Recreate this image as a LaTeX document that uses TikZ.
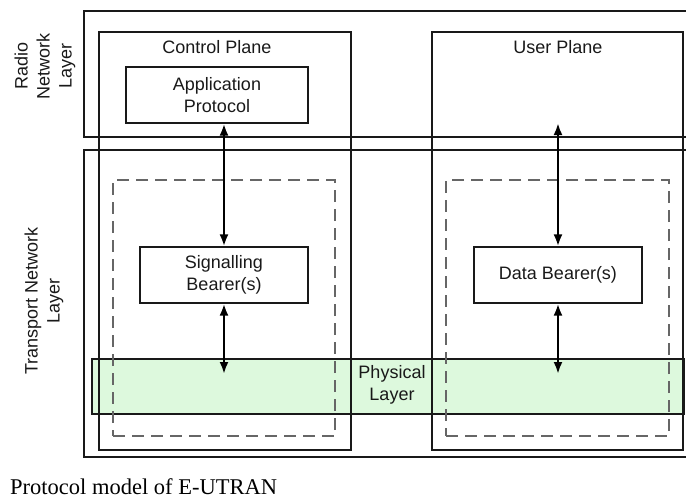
\documentclass[tikz,border=0pt]{standalone}
\usepackage{fontspec}
\setmainfont{Liberation Sans}
\newfontfamily\capfont{Liberation Serif}
\usepackage{xcolor}
\usetikzlibrary{arrows.meta}

\definecolor{phygreen}{HTML}{DDF9DD}

\begin{document}
\begin{tikzpicture}[x=1pt, y=-1pt,
    box/.style={draw=black!90, line width=1.2pt, inner sep=0pt},
    txt/.style={font=\fontsize{18}{22}\selectfont, align=center, text=black!90},
    dbox/.style={draw=black!60, line width=1.5pt, dash pattern=on 12pt off 7pt},
    link/.style={{Latex[length=12pt,width=9pt]}-{Latex[length=12pt,width=9pt]}, line width=2.6pt}]

    \useasboundingbox (0,0) rectangle (686,499);

    %physical layer band (under everything else)
    \node[box, fill=phygreen, minimum width=592pt, minimum height=55pt] (phy) at (388,386.5) {};
    \node[txt] (phylbl) at (392,385) {Physical\\Layer};

    %layers
    \node[box, minimum width=616pt, minimum height=126pt] (rnl) at (392,74) {};
    \node[box, minimum width=616pt, minimum height=307pt] (tnl) at (392,303.5) {};
    \node[txt, rotate=90] (rnllbl) at (45,66) {Radio\\Network\\Layer};
    \node[txt, rotate=90] (tnllbl) at (44,301) {Transport Network\\Layer};

    %planes
    \node[box, minimum width=252pt, minimum height=418pt] (cp) at (225,241) {};
    \node[box, minimum width=251pt, minimum height=418pt] (up) at (557.5,241) {};
    \node[txt] (cplbl) at (217,47) {Control Plane};
    \node[txt] (uplbl) at (558,47) {User Plane};

    %transport network layer parts
    \node[dbox, minimum width=222pt, minimum height=256pt] (cpdash) at (224,308) {};
    \node[dbox, minimum width=223pt, minimum height=256pt] (updash) at (557.5,308) {};

    %protocol boxes
    \node[box, txt, minimum width=182pt, minimum height=56pt] (app) at (217,95) {Application\\Protocol};
    \node[box, txt, minimum width=168pt, minimum height=56pt] (sig) at (224,275) {Signalling\\Bearer(s)};
    \node[box, txt, minimum width=168pt, minimum height=56pt] (data) at (558,275) {Data Bearer(s)};

    %arrow ends
    \coordinate (uptop) at (558,123);
    \coordinate (sigbot) at (224,374);
    \coordinate (databot) at (558,374);

    %arrows
    \draw[link] (sig.north |- app.south) -- (sig.north);
    \draw[link] (sig.south) -- (sigbot);
    \draw[link] (uptop) -- (data.north);
    \draw[link] (data.south) -- (databot);

    %caption
    \node[anchor=base west, inner sep=0pt, font=\capfont\fontsize{22.5}{26}\selectfont] (cap) at (10,494) {Protocol model of E-UTRAN};

\end{tikzpicture}
\end{document}
